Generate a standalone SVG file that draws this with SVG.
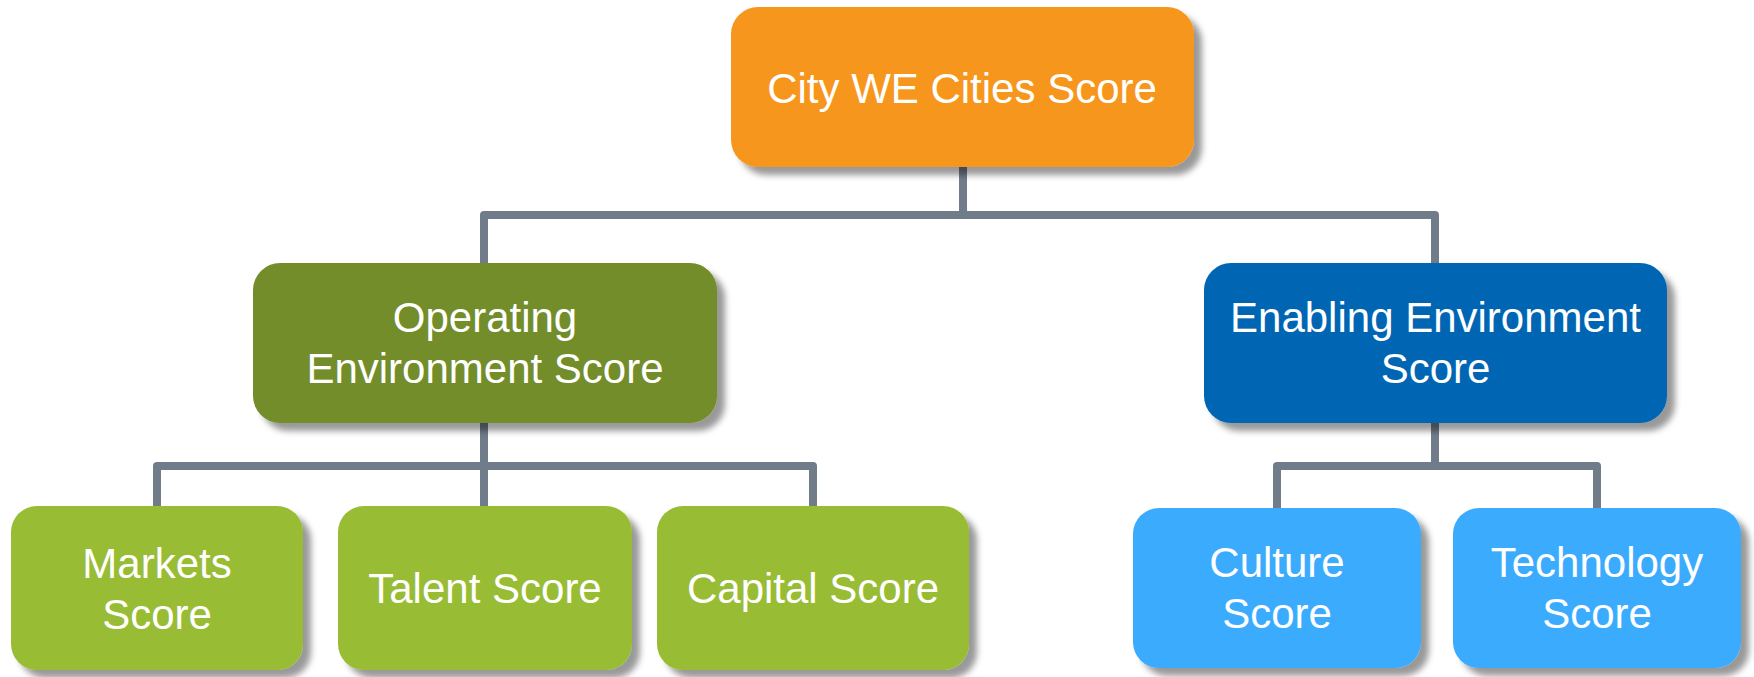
<svg xmlns="http://www.w3.org/2000/svg" width="1754" height="677" viewBox="0 0 1754 677">
<defs>
<filter id="sh" x="-10%" y="-10%" width="130%" height="140%">
<feDropShadow dx="8" dy="8" stdDeviation="3" flood-color="#000" flood-opacity="0.4"/>
</filter>
<style>
.box{filter:url(#sh);}
.t{font-family:"Liberation Sans",Arial,sans-serif;font-size:42px;fill:#fff;text-anchor:middle;}
.c{fill:none;stroke:#717c8a;stroke-width:8;stroke-linejoin:round;}
</style>
</defs>
<rect width="1754" height="677" fill="#fff"/>
<g id="connectors">
<path class="c" d="M963 166 V215"/>
<path class="c" d="M484 263 V215 H1435 V263"/>
<path class="c" d="M484 423 V506"/>
<path class="c" d="M157 506 V466 H813 V506"/>
<path class="c" d="M1435 423 V466"/>
<path class="c" d="M1277 508 V466 H1597 V508"/>
</g>
<g id="city">
<rect class="box" x="731" y="7" width="463" height="160" rx="27" fill="#f7961f"/>
<text class="t" x="962" y="103">City WE Cities Score</text>
</g>
<g id="operating">
<rect class="box" x="253" y="263" width="464" height="160" rx="27" fill="#728d29"/>
<text class="t" x="485" y="332">Operating</text>
<text class="t" x="485" y="383">Environment Score</text>
</g>
<g id="enabling">
<rect class="box" x="1204" y="263" width="463" height="160" rx="27" fill="#0066b3"/>
<text class="t" x="1435.5" y="332">Enabling Environment</text>
<text class="t" x="1435.5" y="383">Score</text>
</g>
<g id="markets">
<rect class="box" x="11" y="506" width="292" height="164" rx="26" fill="#99bc34"/>
<text class="t" x="157" y="578">Markets</text>
<text class="t" x="157" y="629">Score</text>
</g>
<g id="talent">
<rect class="box" x="338" y="506" width="294" height="164" rx="26" fill="#99bc34"/>
<text class="t" x="485" y="603">Talent Score</text>
</g>
<g id="capital">
<rect class="box" x="657" y="506" width="312" height="164" rx="26" fill="#99bc34"/>
<text class="t" x="813" y="603">Capital Score</text>
</g>
<g id="culture">
<rect class="box" x="1133" y="508" width="288" height="160" rx="26" fill="#3babfe"/>
<text class="t" x="1277" y="577">Culture</text>
<text class="t" x="1277" y="628">Score</text>
</g>
<g id="technology">
<rect class="box" x="1453" y="508" width="288" height="160" rx="26" fill="#3babfe"/>
<text class="t" x="1597" y="577">Technology</text>
<text class="t" x="1597" y="628">Score</text>
</g>
</svg>
